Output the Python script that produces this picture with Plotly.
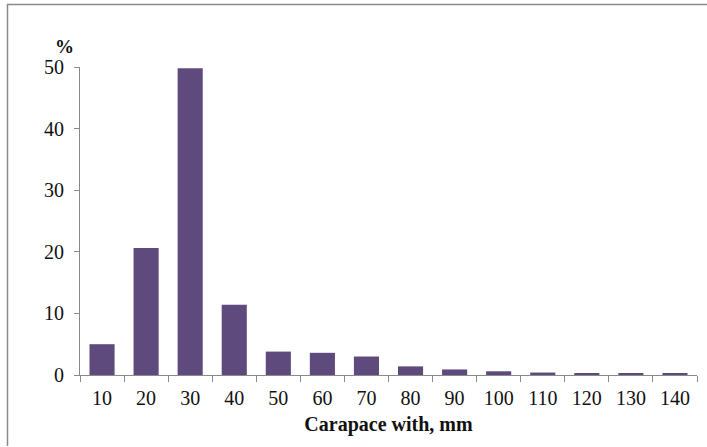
import plotly.graph_objects as go

categories = ["10", "20", "30", "40", "50", "60", "70", "80", "90", "100", "110", "120", "130", "140"]
percent = [5.0, 20.6, 49.8, 11.4, 3.8, 3.6, 3.0, 1.4, 0.9, 0.6, 0.4, 0.2, 0.2, 0.2]

L, R, T, B = 80, 10, 67, 72
W, H = 707, 447
pw = W - L - R
ph = H - T - B

def px_to_paper_x(x):
    return (x - L) / pw

def px_to_paper_y(y):
    return (H - B - y) / ph

fig = go.Figure(go.Bar(
    x=categories, y=percent,
    marker=dict(color="#5e4a7c", line=dict(width=0)),
))

font_family = "Liberation Serif, Times New Roman, serif"

fig.update_layout(
    width=W, height=H,
    margin=dict(l=L, r=R, t=T, b=B),
    paper_bgcolor="white", plot_bgcolor="white",
    bargap=0.43,
    showlegend=False,
    font=dict(family=font_family, size=16, color="#111"),
    xaxis=dict(
        type="category",
        showline=True, linecolor="#8a8a8a", linewidth=1,
        ticks="outside", tickson="boundaries", ticklen=6, tickcolor="#8a8a8a",
        showgrid=False, zeroline=False,
        ticklabelstandoff=5,
        tickfont=dict(family=font_family, size=20, color="#111"),
        title=dict(text="<b>Carapace with, mm</b>", font=dict(family=font_family, size=20, color="#111"), standoff=8),
    ),
    yaxis=dict(
        range=[0, 50],
        tickvals=[0, 10, 20, 30, 40, 50],
        showline=True, linecolor="#8a8a8a", linewidth=1,
        ticks="outside", ticklen=5, tickcolor="#8a8a8a",
        showgrid=False, zeroline=False,
        ticklabelstandoff=6,
        tickfont=dict(family=font_family, size=20, color="#111"),
    ),
    annotations=[dict(
        text="<b>%</b>", xref="paper", yref="paper",
        x=px_to_paper_x(64), y=px_to_paper_y(46),
        showarrow=False, xanchor="center", yanchor="middle",
        font=dict(family=font_family, size=19, color="#111"),
    )],
    shapes=[
        dict(type="line", xref="paper", yref="paper",
             x0=px_to_paper_x(7.5), x1=px_to_paper_x(7.5),
             y0=px_to_paper_y(4), y1=px_to_paper_y(446),
             line=dict(color="#8a8a8a", width=1.5)),
        dict(type="line", xref="paper", yref="paper",
             x0=px_to_paper_x(7), x1=px_to_paper_x(707),
             y0=px_to_paper_y(4.5), y1=px_to_paper_y(4.5),
             line=dict(color="#8a8a8a", width=1.5)),
    ],
)

fig.write_html("out.html", config={"displayModeBar": False},
               post_script="document.body.style.margin='0';document.body.style.padding='0';")
